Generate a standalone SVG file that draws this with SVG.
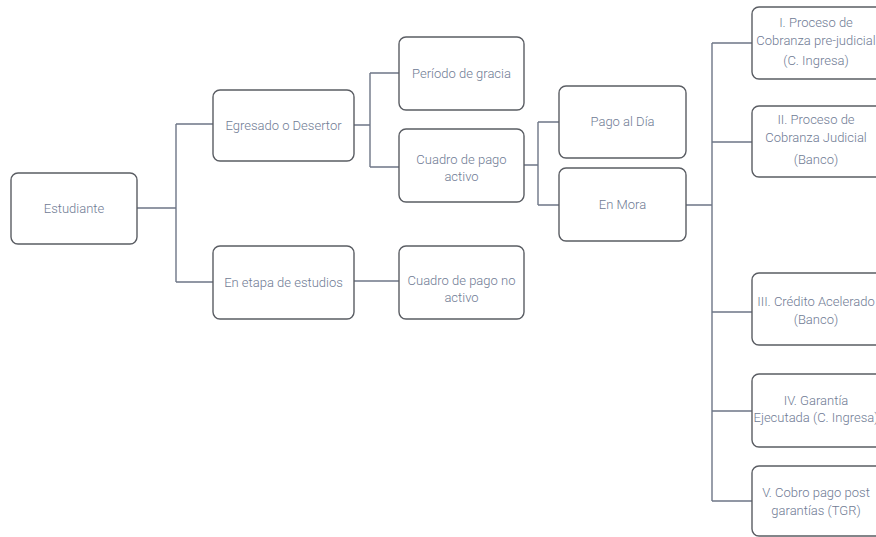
<svg xmlns="http://www.w3.org/2000/svg" width="876" height="537" viewBox="0 0 876 537">
<style>
.box{fill:#fff;stroke:#5a5d63;stroke-width:1.4}
.t{font-family:Roboto,"Liberation Sans",sans-serif;font-size:13px;font-weight:300;fill:#6f7b94;text-anchor:middle;dominant-baseline:central}
.c{fill:none;stroke:#6e7687;stroke-width:1.4}
</style>
<rect width="876" height="537" fill="#fff"/>
<g id="connectors">
<path class="c" d="M137 208H176M176 124V282M176 124H213M176 282H213"/>
<path class="c" d="M354 125H370M370 73V167M370 73H399M370 167H399"/>
<path class="c" d="M354 281H399"/>
<path class="c" d="M524 165H538M538 122V205M538 122H559M538 205H559"/>
<path class="c" d="M686 205H712M712 43V501M712 43H752M712 142H752M712 312H752M712 411H752M712 501H752"/>
</g>
<g id="estudiante"><rect class="box" x="11" y="173" width="126" height="71" rx="7"/><text class="t" x="74" y="208">Estudiante</text></g>
<g id="egresado"><rect class="box" x="213" y="90" width="141" height="71" rx="7"/><text class="t" x="283.5" y="125">Egresado o Desertor</text></g>
<g id="etapa"><rect class="box" x="213" y="246" width="141" height="73" rx="7"/><text class="t" x="283.5" y="282">En etapa de estudios</text></g>
<g id="periodo"><rect class="box" x="399" y="37" width="125" height="73" rx="7"/><text class="t" x="461.5" y="73">Período de gracia</text></g>
<g id="activo"><rect class="box" x="399" y="129" width="125" height="73" rx="7"/><text class="t" x="461.5" y="159">Cuadro de pago</text><text class="t" x="461.5" y="176">activo</text></g>
<g id="noactivo"><rect class="box" x="399" y="246" width="125" height="73" rx="7"/><text class="t" x="461.5" y="280">Cuadro de pago no</text><text class="t" x="461.5" y="297">activo</text></g>
<g id="pagodia"><rect class="box" x="559" y="86" width="127" height="72" rx="7"/><text class="t" x="622.5" y="121">Pago al Día</text></g>
<g id="mora"><rect class="box" x="559" y="168" width="127" height="73" rx="7"/><text class="t" x="622.5" y="204">En Mora</text></g>
<g id="n1"><rect class="box" x="752" y="7" width="130" height="72" rx="7"/><text class="t" x="816" y="22">I. Proceso de</text><text class="t" x="816" y="40">Cobranza pre-judicial</text><text class="t" x="816" y="60">(C. Ingresa)</text></g>
<g id="n2"><rect class="box" x="752" y="106" width="130" height="71" rx="7"/><text class="t" x="816" y="119">II. Proceso de</text><text class="t" x="816" y="137">Cobranza Judicial</text><text class="t" x="816" y="159">(Banco)</text></g>
<g id="n3"><rect class="box" x="752" y="273" width="130" height="72" rx="7"/><text class="t" x="816" y="301">III. Crédito Acelerado</text><text class="t" x="816" y="319">(Banco)</text></g>
<g id="n4"><rect class="box" x="752" y="374" width="130" height="73" rx="7"/><text class="t" x="816" y="400">IV. Garantía</text><text class="t" x="816" y="417">Ejecutada (C. Ingresa)</text></g>
<g id="n5"><rect class="box" x="752" y="466" width="130" height="70" rx="7"/><text class="t" x="816" y="492">V. Cobro pago post</text><text class="t" x="816" y="510">garantías (TGR)</text></g>
</svg>
